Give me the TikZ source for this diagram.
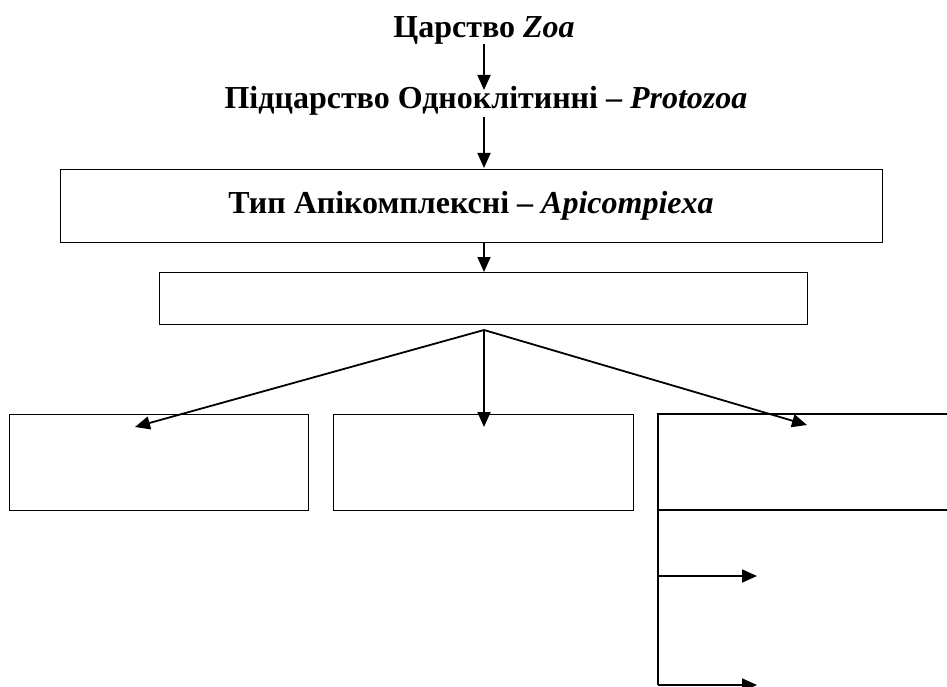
\documentclass[tikz,border=0pt]{standalone}
\usepackage{fontspec}
\setmainfont{Liberation Serif}
\usetikzlibrary{arrows.meta}
\begin{document}
\begin{tikzpicture}[x=1pt,y=-1pt,
  lbl/.style={font=\fontsize{32}{37}\selectfont\bfseries, anchor=base, inner sep=0pt},
  box/.style={draw, line width=1.4pt, inner sep=0pt, anchor=north west},
  arr/.style={line width=1.8pt, -{Triangle[length=15pt,width=13pt]}}]
\useasboundingbox (0,0) rectangle (947,687);
% texts
\node[lbl] (t1) at (484,38) {Царство \textit{Zoa}};
\node[lbl] (t2) at (486,109) {Підцарство Одноклітинні – \textit{Protozoa}};
% boxes
\node[box, minimum width=822pt, minimum height=73pt] (b1) at (60,169) {};
\node[lbl] (t3) at (471,214) {Тип Апікомплексні – \textit{Apicompiexa}};
\node[box, minimum width=648pt, minimum height=52pt] (b2) at (159,272) {};
\node[box, minimum width=299pt, minimum height=96pt] (c1) at (9,414) {};
\node[box, minimum width=300pt, minimum height=96pt] (c2) at (333,414) {};
% open-ended third box
\coordinate (c3tl) at (658,414);
\coordinate (c3tr) at (950,414);
\coordinate (c3bl) at (658,510);
\coordinate (c3br) at (950,510);
\coordinate (c3end) at (658,685);
\draw[line width=1.4pt] (c3tr) -- (c3tl) -- (c3bl) -- (c3br);
\draw[line width=1.8pt] (c3bl) -- (c3end);
% arrow coordinates
\coordinate (a1s) at (484,44);
\coordinate (a1e) at (484,90);
\coordinate (a2s) at (484,117);
\coordinate (a2e) at (484,168);
\coordinate (a3s) at (484,242);
\coordinate (a3e) at (484,272);
\coordinate (fork) at (484,330);
\coordinate (l1) at (135,427);
\coordinate (l2) at (484,427);
\coordinate (l3) at (807,425);
\coordinate (s1) at (658,576);
\coordinate (s1e) at (757,576);
\coordinate (s2e) at (757,685);
\draw[arr] (a1s) -- (a1e);
\draw[arr] (a2s) -- (a2e);
\draw[arr] (a3s) -- (a3e);
\draw[arr] (fork) -- (l1);
\draw[arr] (fork) -- (l2);
\draw[arr] (fork) -- (l3);
\draw[arr] (s1) -- (s1e);
\draw[arr] (c3end) -- (s2e);
\end{tikzpicture}
\end{document}
